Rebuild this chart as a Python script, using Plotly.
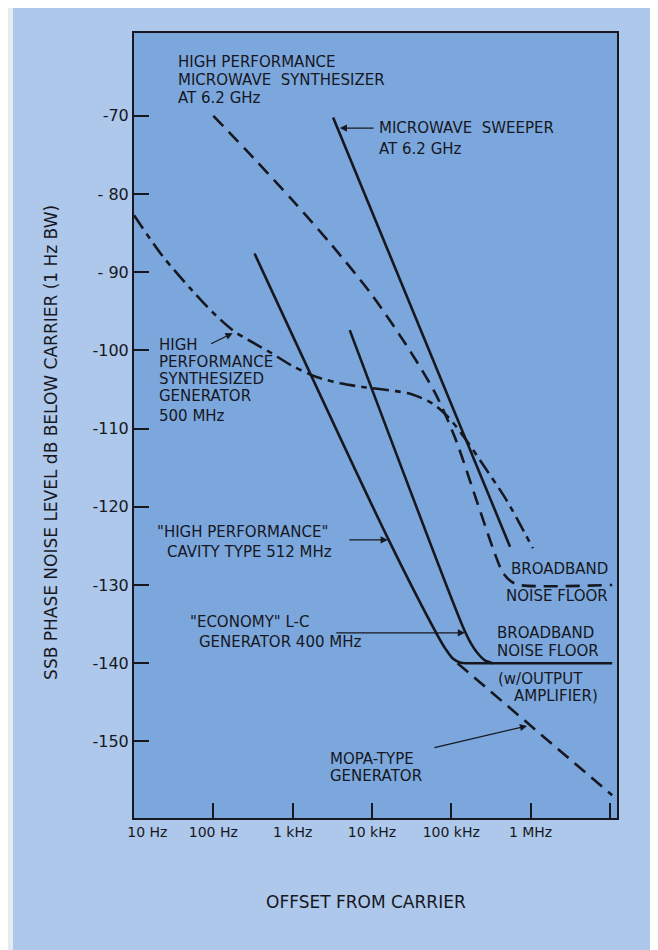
import plotly.graph_objects as go

# ---------------- data (offset in Hz, level in dB below carrier) ----------------
mw_synth_hz = [100, 316, 1000, 3160, 10000, 30000, 63000, 112000, 209000, 355000, 447000, 562000, 725000, 10.7e6]
mw_synth_db = [-70, -75.3, -80.8, -86.6, -92.9, -100, -105.5, -111.2, -119.2, -126.0, -128.4, -129.5, -130, -130]

synth_gen_hz = [10, 22.4, 53.7, 97.7, 186, 513, 1000, 2000, 3980, 7940, 20000, 31600, 56200, 89100, 141000, 251000, 501000, 1070000]
synth_gen_db = [-82.7, -87.8, -92.3, -95.1, -97.6, -100.2, -102.0, -103.4, -104.2, -104.7, -105.2, -105.6, -106.7, -108.4, -110.9, -114.6, -119.2, -125.3]

sweeper_hz = [3240, 551000]
sweeper_db = [-70.2, -125.1]

cavity_hz = [331, 15850, 66070, 85110, 104700, 131800, 177800, 10.7e6]
cavity_db = [-87.6, -124.0, -136.3, -138.2, -139.4, -139.95, -140, -140]

economy_hz = [5250, 141000, 178000, 214000, 263000, 331000]
economy_db = [-97.4, -135.4, -137.5, -138.7, -139.6, -140]

mopa_hz = [120000, 10.7e6]
mopa_db = [-140, -156.9]

x_tick_vals = [10, 100, 1e3, 1e4, 1e5, 1e6, 1e7]
x_tick_text = ["\u00a0\u00a0\u00a0\u00a0\u00a0\u00a010 Hz", "100 Hz", "1 kHz", "10 kHz", "100 kHz", "1 MHz", ""]
y_tick_vals = [-70, -80, -90, -100, -110, -120, -130, -140, -150]
y_tick_text = ["-70", "- 80", "- 90", "-100", "-110", "-120", "-130", "-140", "-150"]

INK = "#17171f"
FONT = "DejaVu Sans"

fig = go.Figure()

def add_line(x, y, dash, shape="linear"):
    fig.add_trace(go.Scatter(x=x, y=y, mode="lines", showlegend=False, hoverinfo="skip",
                             line=dict(color=INK, width=2.6, dash=dash, shape=shape, smoothing=0.8)))

add_line(mw_synth_hz, mw_synth_db, "14px,8px", "spline")
add_line(synth_gen_hz, synth_gen_db, "16px,6px,6px,6px", "spline")
add_line(sweeper_hz, sweeper_db, "solid")
add_line(cavity_hz, cavity_db, "solid", "spline")
add_line(economy_hz, economy_db, "solid", "spline")
add_line(mopa_hz, mopa_db, "14px,8px")

# ---------------- text labels ----------------
labels = [
    ("HIGH PERFORMANCE", 1.524, -63.12, "left"),
    ("MICROWAVE  SYNTHESIZER", 1.524, -65.36, "left"),
    ("AT 6.2 GHz", 1.524, -67.66, "left"),
    ("MICROWAVE  SWEEPER", 4.062, -71.56, "left"),
    ("AT 6.2 GHz", 4.062, -74.25, "left"),
    ("HIGH", 1.284, -99.24, "left"),
    ("PERFORMANCE", 1.284, -101.42, "left"),
    ("SYNTHESIZED", 1.284, -103.59, "left"),
    ("GENERATOR", 1.284, -105.89, "left"),
    ("500 MHz", 1.284, -108.33, "left"),
    ("\"HIGH PERFORMANCE\"", 1.259, -123.26, "left"),
    ("CAVITY TYPE 512 MHz", 1.385, -125.82, "left"),
    ("\"ECONOMY\" L-C", 1.675, -134.73, "left"),
    ("GENERATOR 400 MHz", 1.789, -137.29, "left"),
    ("BROADBAND", 7.004, -127.98, "right"),
    ("NOISE FLOOR", 7.004, -131.43, "right"),
    ("BROADBAND", 5.552, -136.16, "left"),
    ("NOISE FLOOR", 5.552, -138.47, "left"),
    ("(w/OUTPUT", 5.565, -142.05, "left"),
    ("AMPLIFIER)", 5.766, -144.23, "left"),
    ("MOPA-TYPE", 3.443, -152.21, "left"),
    ("GENERATOR", 3.443, -154.38, "left"),
]
annotations = []
for txt, lx, ly, anc in labels:
    annotations.append(dict(text=txt, x=lx, y=ly, xref="x", yref="y", xanchor=anc, yanchor="middle",
                            showarrow=False, font=dict(family=FONT, size=15, color=INK)))

arrows = [
    (3.595, -71.56, 4.04, -71.56),
    (2.244, -97.79, 1.953, -99.24),
    (4.20, -124.23, 3.696, -124.23),
    (5.173, -136.12, 3.532, -136.12),
    (5.956, -148.03, 4.769, -150.84),
]
for hx, hy, tx, ty in arrows:
    annotations.append(dict(text="", x=hx, y=hy, ax=tx, ay=ty, xref="x", yref="y", axref="x", ayref="y",
                            showarrow=True, arrowhead=2, arrowsize=1.1, arrowwidth=1.3, arrowcolor=INK))

annotations.append(dict(text="SSB PHASE NOISE LEVEL dB BELOW CARRIER (1 Hz BW)", textangle=-90,
                        x=-0.172, y=0.479, xref="paper", yref="paper", xanchor="center", yanchor="middle",
                        showarrow=False, font=dict(family=FONT, size=17, color=INK)))
annotations.append(dict(text="OFFSET FROM CARRIER", x=0.48, y=-0.107, xref="paper", yref="paper",
                        xanchor="center", yanchor="middle", showarrow=False,
                        font=dict(family=FONT, size=17, color=INK)))

fig.update_layout(
    width=650, height=942,
    margin=dict(l=126, r=41, t=25, b=132),
    paper_bgcolor="#adc8ea",
    plot_bgcolor="#7ba7dd",
    annotations=annotations,
    shapes=[dict(type="rect", xref="paper", yref="paper", x0=-0.2609, x1=-0.2505, y0=-0.2, y1=1.05,
                 fillcolor="#e6ebf0", line=dict(width=0), layer="below")],
    xaxis=dict(type="log", range=[1.0, 7.09], showgrid=False, zeroline=False,
               tickvals=x_tick_vals, ticktext=x_tick_text, ticks="inside", ticklen=15, tickwidth=2,
               tickcolor=INK, showline=True, linecolor=INK, linewidth=2, mirror=True,
               tickfont=dict(family=FONT, size=14, color=INK)),
    yaxis=dict(range=[-159.8, -59.4], showgrid=False, zeroline=False,
               tickvals=y_tick_vals, ticktext=y_tick_text, ticks="inside", ticklen=15, tickwidth=2,
               tickcolor=INK, showline=True, linecolor=INK, linewidth=2, mirror=True,
               tickfont=dict(family=FONT, size=16, color=INK), ticklabelstandoff=0),
)

fig.write_html("out.html")
